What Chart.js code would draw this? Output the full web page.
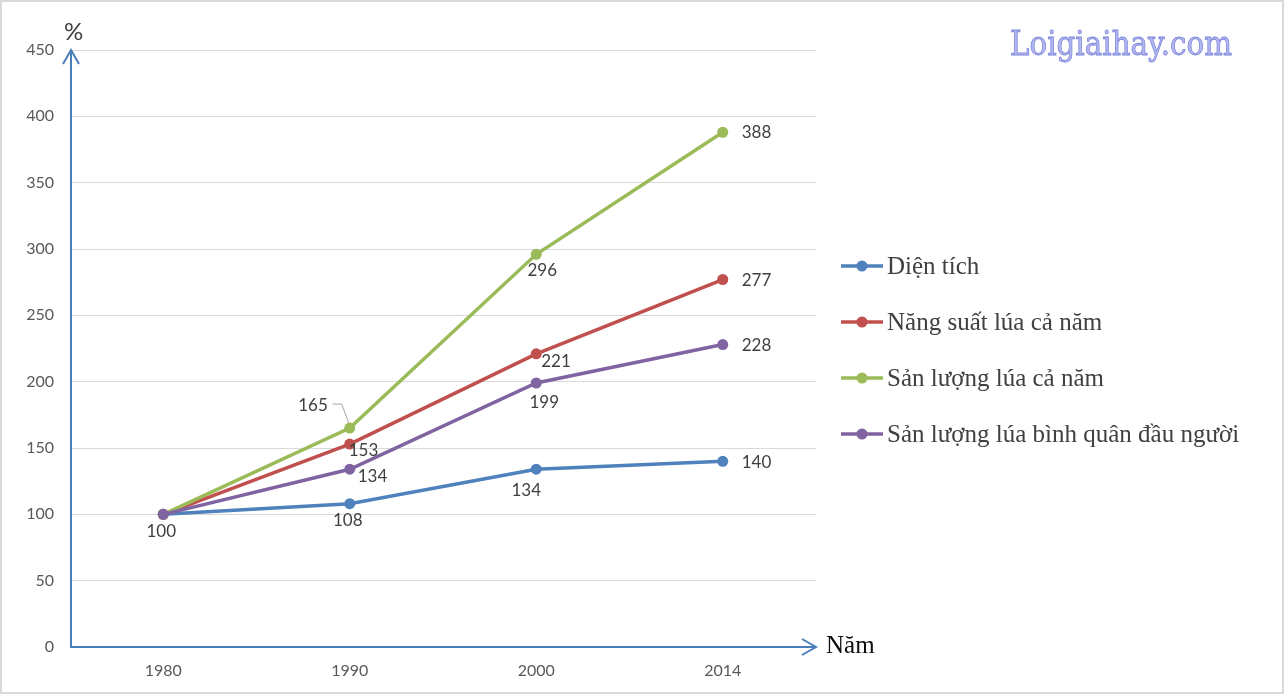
<!DOCTYPE html>
<html>
<head>
<meta charset="utf-8">
<script src="https://cdn.jsdelivr.net/npm/chart.js@4.4.1/dist/chart.umd.min.js"></script>
<style>
  html, body { margin: 0; padding: 0; background: #fff; }
  #wrap { width: 1284px; height: 694px; position: relative; }
  canvas { outline: 2px solid #d9d9d9; outline-offset: -2px; }
</style>
</head>
<body>
<div id="wrap"><canvas id="chart" width="1284" height="694"></canvas></div>
<script>
// data
const years = ['1980', '1990', '2000', '2014'];
const dienTich = [100, 108, 134, 140];
const nangSuat = [100, 153, 221, 277];
const sanLuong = [100, 165, 296, 388];
const binhQuan = [100, 134, 199, 228];
const seriesNames = ['Diện tích', 'Năng suất lúa cả năm', 'Sản lượng lúa cả năm', 'Sản lượng lúa bình quân đầu người'];
const yMin = 0, yMax = 450, yStep = 50;

const colors = ['#4f81bd', '#c0504d', '#9bbb59', '#8064a2'];
const labelFont = '17px Lato, "Open Sans", sans-serif';

// where each value label sits relative to its point: [dx, dy, align]
const labelOffsets = [
  [[-2, 17, 'center'], [-2, 17, 'center'], [-10, 21, 'center'], [19, 1, 'left']],
  [null, [-1, 6, 'left'], [5, 8, 'left'], [19, 1, 'left']],
  [null, [-22, -23, 'right'], [6, 16, 'center'], [19, 0, 'left']],
  [null, [8, 7, 'left'], [8, 20, 'center'], [19, 1, 'left']]
];

function makeSet(i, values, order) {
  return {
    label: seriesNames[i],
    data: values,
    borderColor: colors[i],
    backgroundColor: colors[i],
    borderWidth: 3.5,
    pointRadius: 5.5,
    pointHoverRadius: 5.5,
    pointBorderWidth: 0,
    tension: 0,
    order: order
  };
}

const overlay = {
  id: 'overlay',
  afterDatasetsDraw(chart) {
    const ctx = chart.ctx;
    const area = chart.chartArea;
    const axisColor = '#4a7ebb';
    ctx.save();

    // axes with arrows
    ctx.strokeStyle = axisColor;
    ctx.lineWidth = 2;
    ctx.beginPath();
    ctx.moveTo(area.left + 1, area.bottom);
    ctx.lineTo(area.left + 1, area.top);
    ctx.moveTo(area.left - 7, area.top + 14);
    ctx.lineTo(area.left + 1, area.top);
    ctx.lineTo(area.left + 9, area.top + 14);
    ctx.moveTo(area.left, area.bottom);
    ctx.lineTo(area.right, area.bottom);
    ctx.moveTo(area.right - 14, area.bottom - 8);
    ctx.lineTo(area.right, area.bottom);
    ctx.lineTo(area.right - 14, area.bottom + 8);
    ctx.stroke();

    // axis titles
    ctx.fillStyle = '#404040';
    ctx.font = '24px Lato, "Open Sans", sans-serif';
    ctx.textAlign = 'left';
    ctx.textBaseline = 'alphabetic';
    ctx.fillText('%', 64, 40);
    ctx.fillStyle = '#0d0d0d';
    ctx.font = '25px "Liberation Serif", serif';
    ctx.fillText('Năm', 826, 653);

    // value labels
    ctx.font = labelFont;
    ctx.fillStyle = '#404040';
    ctx.textBaseline = 'middle';
    chart.data.datasets.forEach(function (ds, di) {
      const meta = chart.getDatasetMeta(di);
      meta.data.forEach(function (pt, j) {
        const off = labelOffsets[di][j];
        if (!off) return;
        ctx.textAlign = off[2];
        ctx.fillText(String(ds.data[j]), pt.x + off[0], pt.y + off[1]);
      });
    });

    // leader line for 165
    const p165 = chart.getDatasetMeta(2).data[1];
    ctx.strokeStyle = '#a6a6a6';
    ctx.lineWidth = 1;
    ctx.beginPath();
    ctx.moveTo(p165.x - 17, p165.y - 24);
    ctx.lineTo(p165.x - 8, p165.y - 24);
    ctx.lineTo(p165.x - 1, p165.y - 5);
    ctx.stroke();

    // legend
    ctx.font = '25px "Liberation Serif", serif';
    ctx.textAlign = 'left';
    ctx.textBaseline = 'middle';
    const rows = [266, 322, 378, 434];
    chart.data.datasets.forEach(function (ds, i) {
      const y = rows[i];
      ctx.strokeStyle = ds.borderColor;
      ctx.lineWidth = 3.5;
      ctx.beginPath();
      ctx.moveTo(841, y);
      ctx.lineTo(883, y);
      ctx.stroke();
      ctx.fillStyle = ds.borderColor;
      ctx.beginPath();
      ctx.arc(862, y, 5.5, 0, Math.PI * 2);
      ctx.fill();
      ctx.fillStyle = '#404040';
      ctx.fillText(ds.label, 887, y + 1);
    });

    // watermark
    ctx.font = '33px "DejaVu Serif", serif';
    ctx.textBaseline = 'alphabetic';
    const wm = 'Loigiaihay.com';
    const w = ctx.measureText(wm).width;
    ctx.translate(1010, 55);
    ctx.scale(222 / w, 1);
    ctx.fillStyle = '#b3b8f0';
    ctx.strokeStyle = '#7b84da';
    ctx.lineWidth = 0.8;
    ctx.fillText(wm, 0, 0);
    ctx.strokeText(wm, 0, 0);
    ctx.restore();
  }
};

const ctx = document.getElementById('chart');
const chart = new Chart(ctx, {
  type: 'line',
  data: {
    labels: years,
    datasets: [
      makeSet(0, dienTich, 4),
      makeSet(1, nangSuat, 3),
      makeSet(2, sanLuong, 2),
      makeSet(3, binhQuan, 1)
    ]
  },
  options: {
    responsive: false,
    animation: false,
    events: [],
    layout: { padding: { left: 0, top: 50, right: 468, bottom: 0 } },
    plugins: { legend: { display: false }, tooltip: { enabled: false } },
    scales: {
      x: {
        offset: true,
        grid: { display: false, drawTicks: false },
        border: { display: false },
        ticks: { color: '#595959', font: { family: 'Lato, "Open Sans", sans-serif', size: 16 }, padding: 14 },
        afterFit: function (scale) { scale.height = 47; }
      },
      y: {
        min: yMin,
        max: yMax,
        grid: { color: '#d9d9d9', lineWidth: 1, drawTicks: false },
        border: { display: false },
        ticks: { stepSize: yStep, color: '#595959', font: { family: 'Lato, "Open Sans", sans-serif', size: 16 }, padding: 16 },
        afterFit: function (scale) { scale.width = 70; }
      }
    }
  },
  plugins: [overlay]
});
</script>
</body>
</html>
